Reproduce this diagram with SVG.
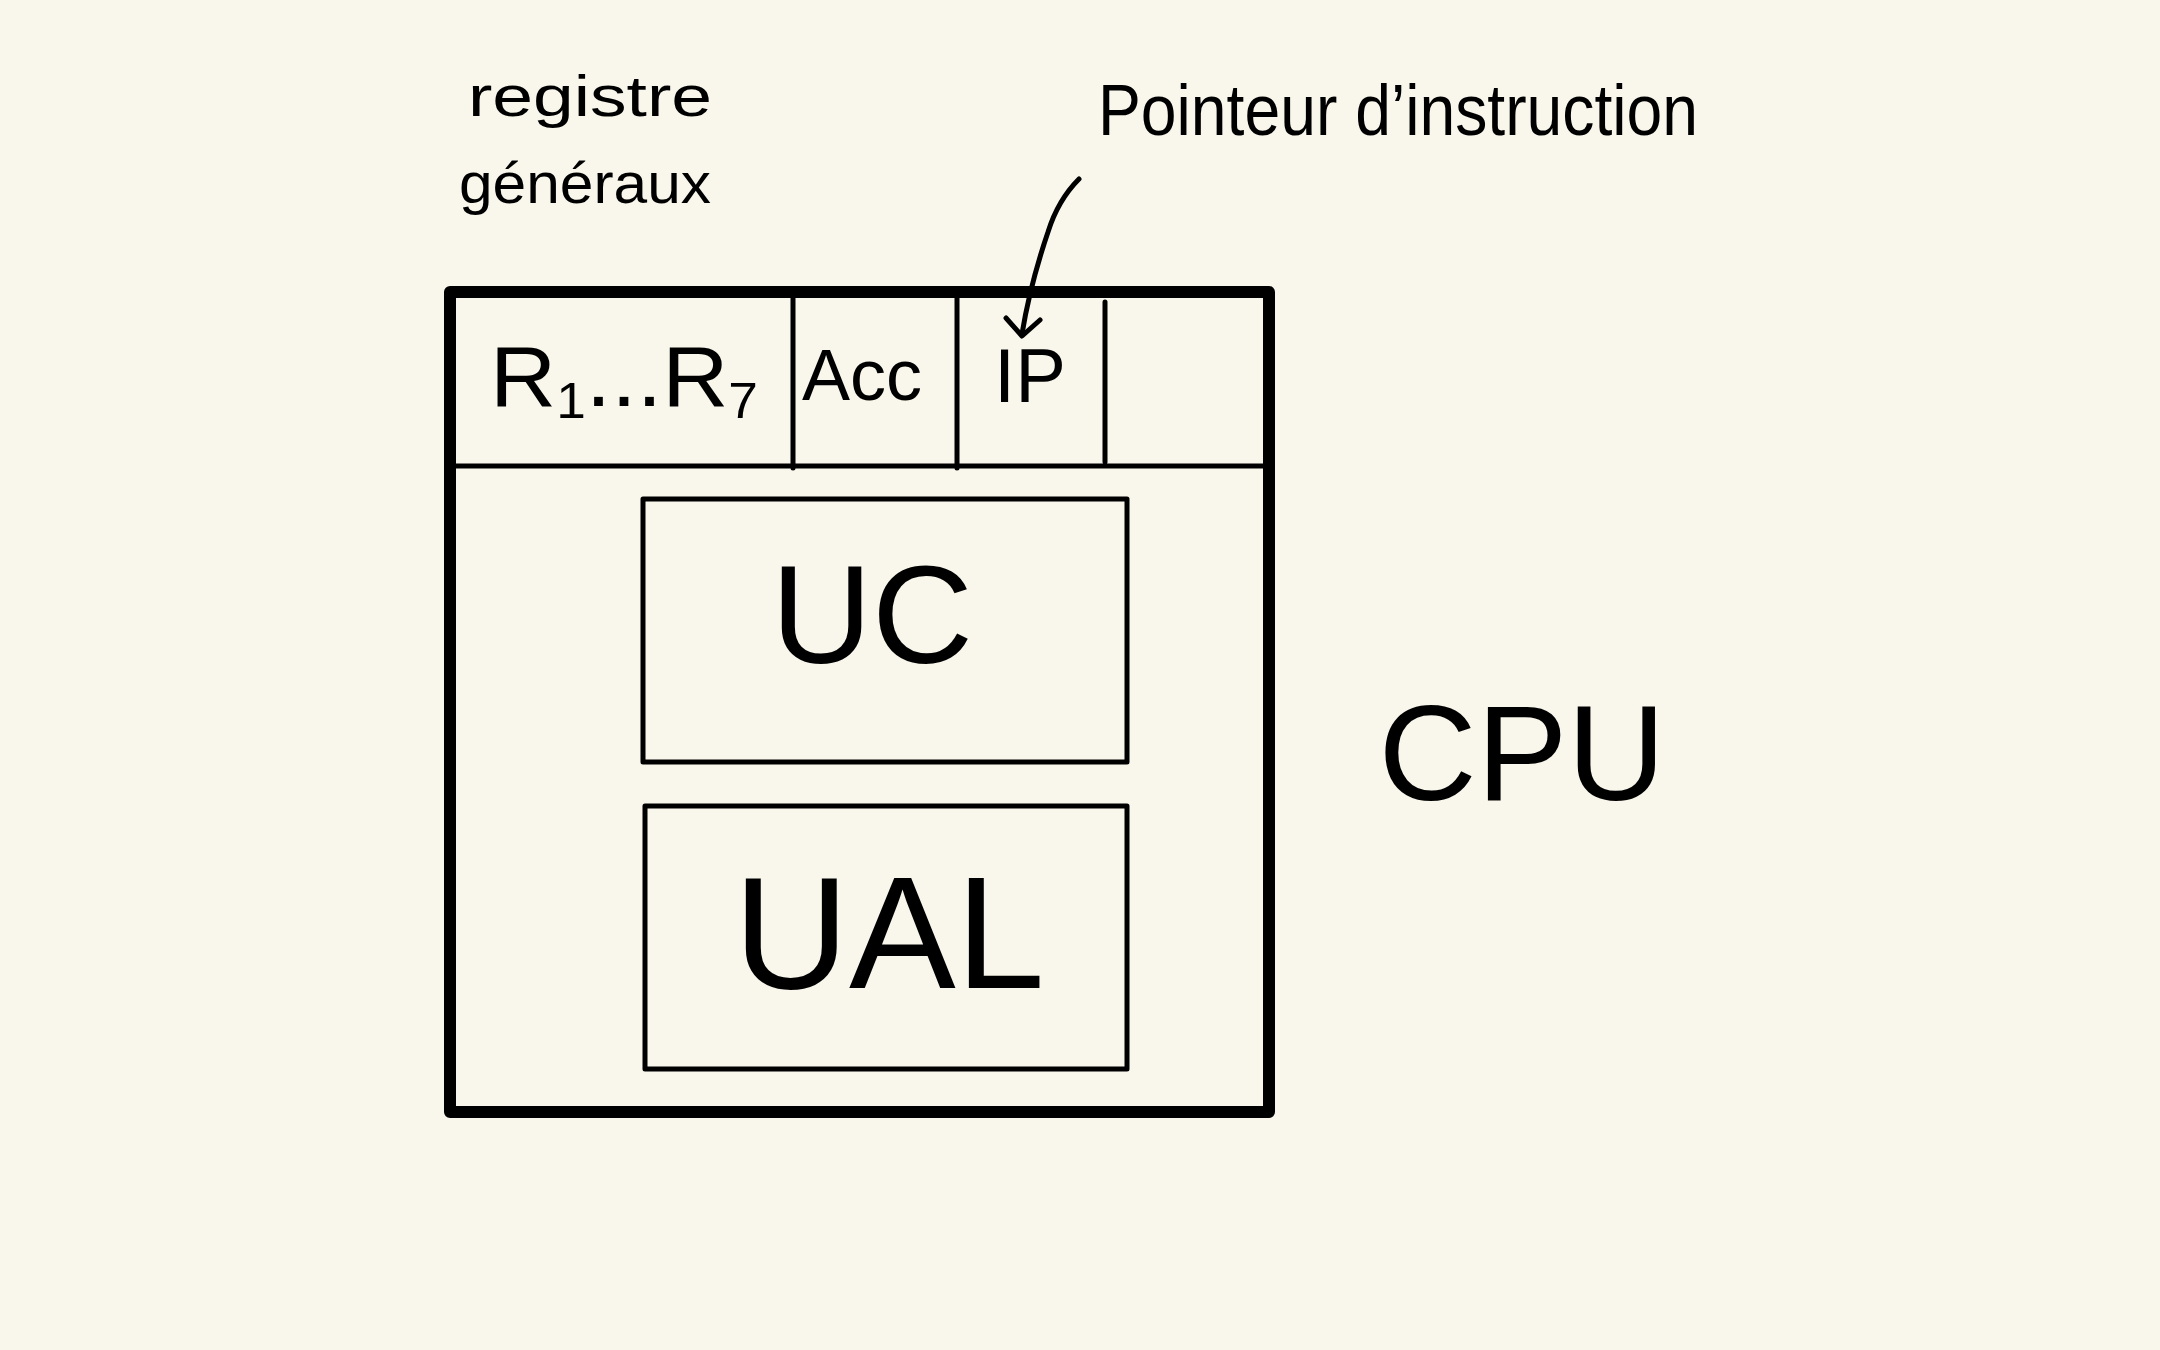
<svg xmlns="http://www.w3.org/2000/svg" width="2160" height="1350" viewBox="0 0 2160 1350">
<defs>
<style>
.bg{fill:#f9f7eb}
.outer{fill:none;stroke:#000;stroke-width:12;stroke-linejoin:round}
.thin{fill:none;stroke:#000;stroke-width:5;stroke-linecap:round;stroke-linejoin:round}
.conn{fill:none;stroke:#000;stroke-width:5;stroke-linecap:round;stroke-linejoin:round}
.lbl{font-family:"Liberation Sans","DejaVu Sans",sans-serif;fill:#000}
.mid{text-anchor:middle}
</style>
</defs>
<rect class="bg" x="0" y="0" width="2160" height="1350"/>
<g id="cpu">
<rect class="outer" x="450" y="292" width="819" height="820"/>
<line class="thin" x1="453" y1="466" x2="1265" y2="466"/>
<text class="lbl mid" x="1522" y="800" font-size="136">CPU</text>
</g>
<g id="reg-general">
<line class="thin" x1="793" y1="297" x2="793" y2="468"/>
<text class="lbl" x="490" y="406" font-size="86" textLength="268" lengthAdjust="spacingAndGlyphs">R<tspan font-size="50" dy="12">1</tspan><tspan dy="-12">...R</tspan><tspan font-size="50" dy="12">7</tspan></text>
</g>
<g id="acc">
<line class="thin" x1="957" y1="297" x2="957" y2="468"/>
<text class="lbl mid" x="862" y="400" font-size="72">Acc</text>
</g>
<g id="ip">
<line class="thin" x1="1105" y1="302" x2="1105" y2="462"/>
<text class="lbl mid" x="1030" y="402" font-size="76">IP</text>
</g>
<g id="uc">
<rect class="thin" x="643" y="499" width="484" height="263"/>
<text class="lbl mid" x="872" y="663" font-size="140">UC</text>
</g>
<g id="ual">
<rect class="thin" x="645" y="806" width="482" height="263"/>
<text class="lbl mid" x="889" y="988" font-size="160">UAL</text>
</g>
<g id="label-registre">
<text class="lbl" x="468" y="116" font-size="58" textLength="244" lengthAdjust="spacingAndGlyphs">registre</text>
<text class="lbl" x="459" y="203" font-size="58" textLength="252" lengthAdjust="spacingAndGlyphs">généraux</text>
</g>
<g id="label-pointeur">
<text class="lbl" x="1098" y="135" font-size="72" textLength="600" lengthAdjust="spacingAndGlyphs">Pointeur d’instruction</text>
</g>
<g id="connectors">
<path class="conn" d="M1079,179 Q1058,200 1048,232 Q1030,285 1022,334"/>
<path class="conn" d="M1006,318 L1022,336 L1040,320"/>
</g>
</svg>
